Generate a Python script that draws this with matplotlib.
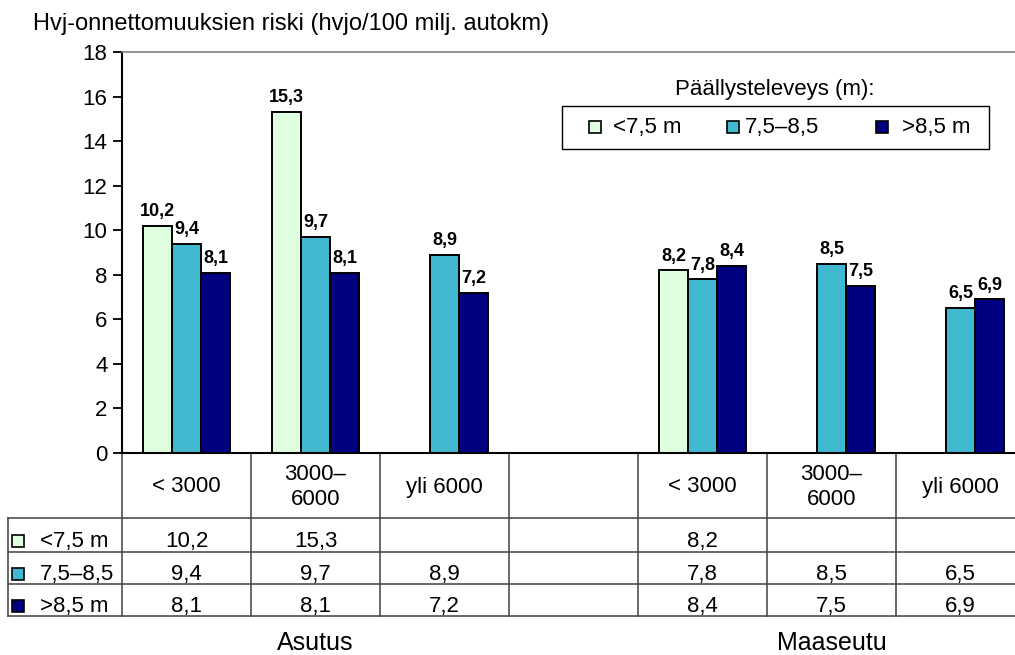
import matplotlib.pyplot as plt
from matplotlib.lines import Line2D
from matplotlib.patches import Rectangle
from matplotlib.transforms import blended_transform_factory

plt.rcParams['font.family'] = ['Liberation Sans', 'DejaVu Sans']

# traffic volume classes, with an empty column between the two areas
columns = ["< 3000", "3000–\n6000", "yli 6000", "", "< 3000", "3000–\n6000", "yli 6000"]
widths = ["<7,5 m", "7,5–8,5", ">8,5 m"]
narrow = [10.2, 15.3, None, None, 8.2, None, None]
medium = [9.4, 9.7, 8.9, None, 7.8, 8.5, 6.5]
wide = [8.1, 8.1, 7.2, None, 8.4, 7.5, 6.9]
areas = ["Asutus", "Maaseutu"]
area_cols = [1, 5]
colors = ["#E0FFE0", "#40B8CF", "#000080"]

W, H = 1015, 655
fig = plt.figure(figsize=(W / 100, H / 100), dpi=100)


def fx(px):
    return px / W


def fy(py):
    return 1 - py / H


def fmt(v):
    return f"{v:.1f}".replace(".", ",")


def square(x, y, col):
    fig.add_artist(Line2D([x], [y], marker="s", markersize=8.5,
                          markerfacecolor=col, markeredgecolor="black",
                          markeredgewidth=1.2, transform=fig.transFigure))


ax = fig.add_axes([fx(122), fy(453), 903 / W, 401 / H])

bw = 29 / 129
for i, (vals, col) in enumerate(zip([narrow, medium, wide], colors)):
    idx = [k for k, v in enumerate(vals) if v is not None]
    xs = [k + (i - 1) * bw for k in idx]
    hs = [vals[k] for k in idx]
    ax.bar(xs, hs, width=bw, color=col, edgecolor="black", linewidth=1.4)
    for x, v in zip(xs, hs):
        ax.annotate(fmt(v), (x, v), xytext=(0, 7), textcoords="offset points",
                    ha="center", va="baseline", fontsize=13, fontweight="bold")

ax.set_xlim(-0.5, 6.5)
ax.set_ylim(0, 18)
ax.set_yticks(range(0, 19, 2))
ax.set_xticks([])
ax.tick_params(axis="y", labelsize=16, length=6.5, width=1.3, pad=4)
ax.spines["right"].set_visible(False)
ax.spines["top"].set_color("#808080")
ax.spines["top"].set_linewidth(1.2)
ax.spines["left"].set_linewidth(1.5)
ax.spines["bottom"].set_linewidth(1.5)

# data table under the axis
tr = blended_transform_factory(ax.transData, fig.transFigure)
line_kw = dict(color="#404040", linewidth=1.1, transform=tr, clip_on=False)
left_edge = -0.5 - 114 / 129
rows_y = [453, 518, 552, 584, 616]
for k in range(8):
    ax.plot([k - 0.5, k - 0.5], [fy(453), fy(616)], **line_kw)
ax.plot([left_edge, left_edge], [fy(518), fy(616)], **line_kw)
for y in rows_y[1:]:
    ax.plot([left_edge, 6.5], [fy(y), fy(y)], **line_kw)

for k, name in enumerate(columns):
    ax.text(k, fy(487), name, transform=tr, ha="center", va="center",
            fontsize=16, linespacing=1.2)

baselines = [547, 580, 612]
for vals, base in zip([narrow, medium, wide], baselines):
    for k, v in enumerate(vals):
        if v is not None:
            ax.text(k, fy(base), fmt(v), transform=tr, ha="center",
                    va="baseline", fontsize=16)

for name, col, base in zip(widths, colors, baselines):
    square(fx(18), fy(base - 6), col)
    fig.text(fx(40), fy(base), name, va="baseline", fontsize=16)

for name, k in zip(areas, area_cols):
    ax.text(k, fy(650), name, transform=tr, ha="center", va="baseline",
            fontsize=18)

# legend
fig.add_artist(Rectangle((fx(562), fy(149)), fx(989) - fx(562), fy(106) - fy(149),
                         transform=fig.transFigure, facecolor="white",
                         edgecolor="black", linewidth=1))
fig.text(fx(775), fy(90), "Päällysteleveys (m):", ha="center", va="center",
         fontsize=16)
for name, col, mx, tx in zip(widths, colors, [595, 733, 882], [613, 745, 902]):
    square(fx(mx), fy(127), col)
    fig.text(fx(tx), fy(127), name, va="center", fontsize=16)

fig.text(fx(33), fy(30), "Hvj-onnettomuuksien riski (hvjo/100 milj. autokm)",
         va="baseline", fontsize=17)

fig.savefig("out.png", dpi=100)
